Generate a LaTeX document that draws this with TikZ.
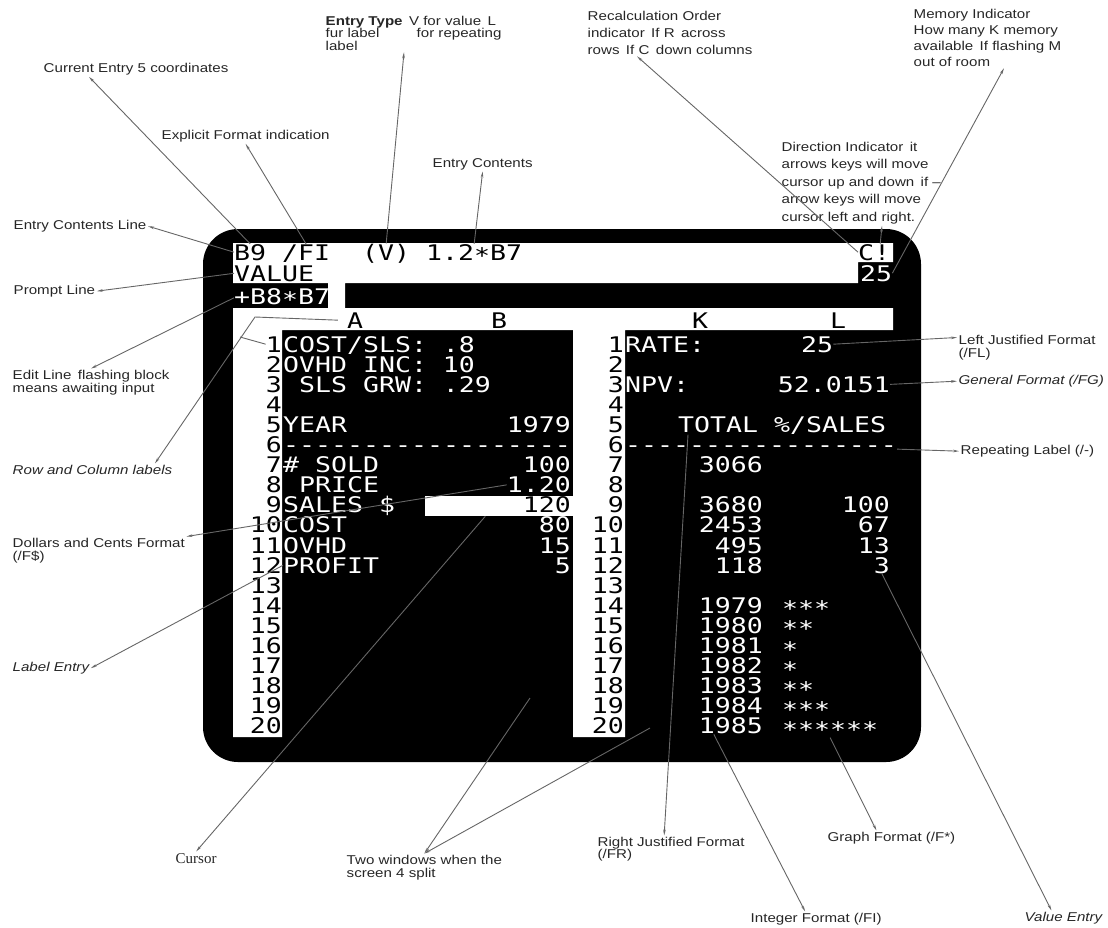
\documentclass[tikz,border=0pt]{standalone}
\usepackage{fontspec}
\setmainfont{Liberation Sans}[FakeStretch=1.18]
\newfontfamily\skjermfont{DejaVu Sans Mono}[FakeStretch=1.235]
\newfontfamily\seriffont{Liberation Serif}
\usetikzlibrary{arrows.meta}
\newcommand\streker[1]{\foreach \i in {1,...,#1}{-\kern0pt}}
\newcommand\stj{\raisebox{-3.5pt}{*}}
\newcommand\stjerner[1]{\foreach \i in {1,...,#1}{\stj}}

\begin{document}
\begin{tikzpicture}[x=1pt, y=-1pt,
every node/.append style = {inner sep=1.5pt},
   merk/.style = {anchor=north west, align=left, text=black!85,
                  font=\fontsize{12.8}{#1}\selectfont},
   merk/.default = 13.5,
   tegn/.style = {anchor=base west, inner sep=0pt, text=white,
                  font=\skjermfont\fontsize{21.5}{20}\selectfont},
 tegnsv/.style = {tegn, text=black},
    pil/.style = {draw=black!60, line width=0.9pt,
                  -{Stealth[length=6pt, width=2.6pt]}}
                    ]
\useasboundingbox (0,0) rectangle (1108,927);
% screen
\fill[black, rounded corners=35pt] (203,229) rectangle (921,762);
\fill[white] (233,243) rectangle (893,262)
             (233,262) rectangle (858,283)
             (328,283) rectangle (345,308)
             (233,308) rectangle (893,330)
             (233,330) rectangle (282,737)
             (573,330) rectangle (625,737);
%nodes on the screen
\node (tB9)  [tegnsv] at (234,260) {B9};
\node (tFI)  [tegnsv] at (282,260) {/FI};
\node (tV)   [tegnsv] at (362,260) {(V)};
\node (tInn) [tegnsv] at (426,260) {1.2\stj B7};
\node (tCI)  [tegnsv] at (858,260) {C!};
\node (tVal) [tegnsv] at (234,281) {VALUE};
\node (tMem) [tegn]   at (860,281) {25};
\node (tEd)  [tegn]   at (234,304) {+B8\stj B7};
\node (hA) [tegnsv, anchor=base] at (355,328) {A};
\node (hB) [tegnsv, anchor=base] at (499,328) {B};
\node (hK) [tegnsv, anchor=base] at (700,328) {K};
\node (hL) [tegnsv, anchor=base] at (838,328) {L};
\foreach \r in {1,...,20}
  {\node (ln\r) [tegnsv, anchor=base east] at (282,{352+(\r-1)*20.1}) {\r};
   \node (rn\r) [tegnsv, anchor=base east] at (624,{352+(\r-1)*20.1}) {\r};}
% left window
\node (a1)  [tegn] at (283,352)   {COST/SLS:};
\node (b1)  [tegn, anchor=base east] at (475,352) {.8};
\node (a2)  [tegn] at (283,372.1) {OVHD INC:};
\node (b2)  [tegn, anchor=base east] at (475,372.1) {10};
\node (a3)  [tegn] at (299,392.2) {SLS GRW:};
\node (b3)  [tegn, anchor=base east] at (491,392.2) {.29};
\node (a5)  [tegn] at (283,432.4) {YEAR};
\node (b5)  [tegn, anchor=base east] at (571,432.4) {1979};
\node (d6l) [tegn] at (283,452.5) {\streker{18}};
\node (a7)  [tegn] at (283,472.6) {\# SOLD};
\node (b7)  [tegn, anchor=base east] at (571,472.6) {100};
\node (a8)  [tegn] at (299,492.7) {PRICE};
\node (b8)  [tegn, anchor=base east] at (571,492.7) {1.20};
\node (a9)  [tegn] at (283,512.8) {SALES \$};
\node (markor) [fill=white, inner sep=0pt, minimum width=148pt,
                minimum height=20pt, anchor=north west] at (425,496) {};
\node (b9)  [tegnsv, anchor=base east] at (571,512.8) {120};
\node (a10) [tegn] at (283,532.9) {COST};
\node (b10) [tegn, anchor=base east] at (571,532.9) {80};
\node (a11) [tegn] at (283,553)   {OVHD};
\node (b11) [tegn, anchor=base east] at (571,553) {15};
\node (a12) [tegn] at (283,573.1) {PROFIT};
\node (b12) [tegn, anchor=base east] at (571,573.1) {5};
% right window
\node (k1)  [tegn] at (625,352)   {RATE:};
\node (l1)  [tegn] at (801,352)   {25};
\node (k3)  [tegn] at (625,392.2) {NPV:};
\node (l3)  [tegn, anchor=base east] at (890,392.2) {52.0151};
\node (k5)  [tegn] at (678,432.4) {TOTAL \%/SALES};
\node (d6r) [tegn] at (625,452.5) {\streker{17}};
\node (k7)  [tegn, anchor=base east] at (763,472.6) {3066};
\foreach \r/\k/\l in {9/3680/100, 10/2453/67, 11/495/13, 12/118/3}
  {\node (k\r) [tegn, anchor=base east] at (763,{352+(\r-1)*20.1}) {\k};
   \node (l\r) [tegn, anchor=base east] at (890,{352+(\r-1)*20.1}) {\l};}
\foreach \r/\y/\s in {14/1979/3, 15/1980/2, 16/1981/1, 17/1982/1,
                      18/1983/2, 19/1984/3, 20/1985/6}
  {\node (y\r) [tegn, anchor=base east] at (763,{352+(\r-1)*20.1}) {\y};
   \node (s\r) [tegn] at (782,{352+(\r-1)*20.1}) {\stjerner{\s}};}
%labels
\node (curent) [merk] at (42,61.5)   {Current Entry 5 coordinates};
\node (expl)   [merk] at (160,128.5) {Explicit Format indication};
\node (etype)  [merk=12.5] at (324,14.5)
   {{\bfseries Entry Type}\enspace V for value\enspace L\\
    \makebox[91pt][l]{fur label}for repeating\\ label};
\node (econt)  [merk] at (431,156.5) {Entry Contents};
\node (ecline) [merk] at (12,218.5)  {Entry Contents Line};
\node (recalc) [merk=17] at (586,9.5)
   {Recalculation Order\\ indicator\enspace If R\enspace across\\
    rows\enspace If C\enspace down columns};
\node (dirind) [merk=17.5] at (780,140.5)
   {Direction Indicator\enspace it\\ arrows keys will move\\
    cursor up and down\enspace if --\\ arrow keys will move\\
    cursor left and right.};
\node (memind) [merk=15.8] at (912,8)
   {Memory Indicator\\ How many K memory\\
    available\enspace If flashing M\\ out of room};
\node (prompt) [merk] at (12,283.5)  {Prompt Line};
\node (editl)  [merk=13] at (11,368.5)
   {Edit Line\enspace flashing block\\ means awaiting input};
\node (rowcol) [merk] at (11,463.5)  {\itshape Row and Column labels};
\node (dollar) [merk=13] at (11,536.5) {Dollars and Cents Format\\ (/F\$)};
\node (labent) [merk] at (11,660.5)  {\itshape Label Entry};
\node (leftj)  [merk=13] at (957,333.5) {Left Justified Format\\ (/FL)};
\node (genf)   [merk] at (957,373.5) {\itshape General Format (/FG)};
\node (repl)   [merk] at (959,443.5) {Repeating Label (/-)};
\node (valent) [merk] at (1023,910.5) {\itshape Value Entry};
\node (graphf) [merk] at (826,830.5) {Graph Format (/F*)};
\node (intf)   [merk] at (749,911.5) {Integer Format (/FI)};
\node (rjust)  [merk=12.5] at (596,835.5) {Right Justified Format\\ (/FR)};
\node (twowin) [merk=13] at (345,853.5) {Two windows when the\\ screen 4 split};
\node (cursor) [merk, font=\seriffont\fontsize{15}{16}\selectfont]
               at (174,851.5) {Cursor};
\coordinate (knekk)  at (255,317);
\coordinate (gaffel) at (240,337);
\coordinate (vindu1) at (530,698);
\coordinate (vindu2) at (650,728);
% edges
\draw[pil] (tB9.north) -- ([xshift=47pt]curent.south west);
\draw[pil] (tFI.north) -- (expl.south);
\draw[pil] (tV.north) -- ([xshift=80pt]etype.south west);
\draw[pil] (tInn.north) -- (econt.south);
\draw[pil] (tB9.west) -- (ecline.east);
\draw[pil] (tCI.west) -- ([xshift=51pt]recalc.south west);
\draw[pil] ([xshift=6pt]tCI.north) -- ([xshift=102pt]dirind.south west);
\draw[pil] (tMem.east) -- ([xshift=92pt]memind.south west);
\draw[pil] (tVal.west) -- (prompt.east);
\draw[pil] (tEd.west) -- (editl.north);
\draw[pil, -] (ln1.west) -- (gaffel);
\draw[pil] ([xshift=-9pt]hA.west) -- (knekk) -- ([xshift=-19pt]rowcol.north east);
\draw[pil] (b8.west) -- (dollar.north east);
\draw[pil] (a12.west) -- (labent.east);
\draw[pil] (l1.east) -- ([yshift=-4pt]leftj.north west);
\draw[pil] (l3.east) -- (genf.west);
\draw[pil] (d6r.east) -- (repl.west);
\draw[pil] (l12.south) -- ([xshift=-12pt]valent.north);
\draw[pil] (s20.south) -- ([xshift=-15pt]graphf.north);
\draw[pil] ([xshift=-17pt]y20.south) -- ([xshift=-11pt]intf.north);
\draw[pil] ([xshift=10pt]k5.south west) -- ([xshift=-7pt]rjust.north);
\draw[pil] (vindu1) -- (twowin.north);
\draw[pil] (vindu2) -- (twowin.north);
\draw[pil] ([xshift=-14pt]markor.south) -- (cursor.north);
\end{tikzpicture}
\end{document}
